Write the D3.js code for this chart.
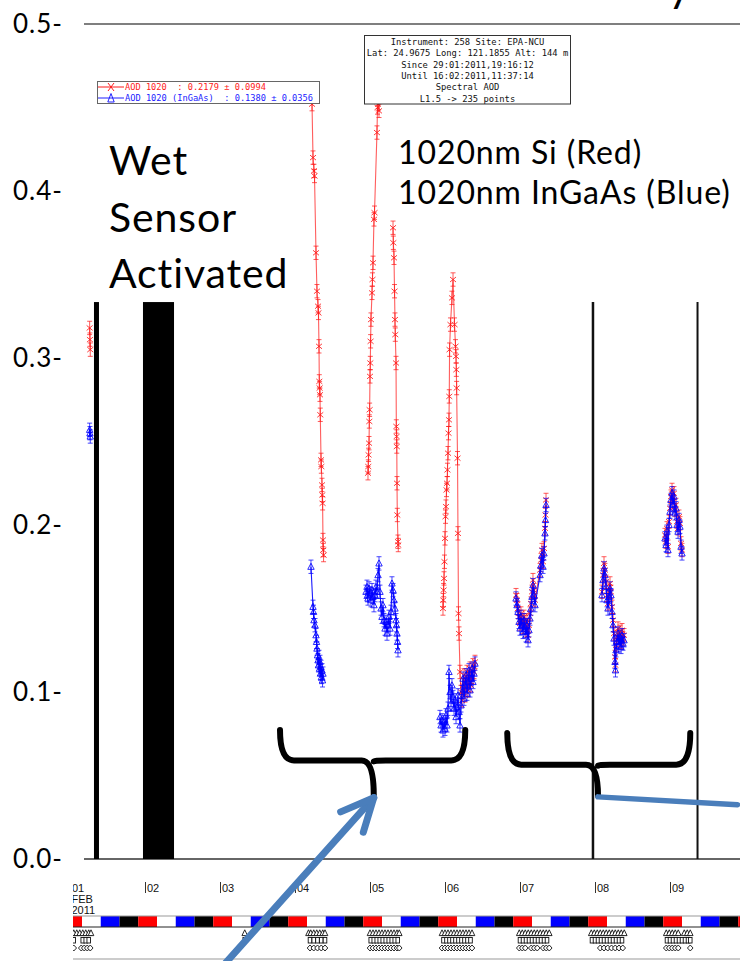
<!DOCTYPE html>
<html>
<head>
<meta charset="utf-8">
<script src="https://cdn.jsdelivr.net/npm/d3@7"></script>
<style>
  html, body { margin: 0; padding: 0; background: #fff; }
  svg { display: block; }
</style>
</head>
<body>
<svg id="chart" width="740" height="961"></svg>
<script>
// ---- AOD 1020 nm, EPA-NCU, February 2011 (time in fractional day of month) ----

// Si 1020 nm channel (red)
const siDay = [
  1.262, 1.266, 1.270,
  4.213, 4.227, 4.240, 4.253, 4.260, 4.280, 4.293, 4.307, 4.313, 4.320, 4.324,
  4.328, 4.333, 4.337, 4.347, 4.351, 4.360, 4.364, 4.368, 4.373, 4.377, 4.381,
  4.973, 4.977, 4.981, 4.987, 4.991, 4.995, 5.000, 5.004, 5.008, 5.013, 5.027,
  5.033, 5.040, 5.053, 5.060, 5.093, 5.100, 5.107, 5.120, 5.133,
  5.307, 5.311, 5.320, 5.327, 5.333, 5.337, 5.347, 5.351, 5.355, 5.357, 5.360,
  5.364, 5.373, 5.377,
  5.973, 5.977, 5.981, 5.987, 5.993, 6.000, 6.007, 6.013, 6.020, 6.027, 6.033,
  6.040, 6.047, 6.053, 6.057, 6.061, 6.073, 6.093, 6.107, 6.127, 6.140, 6.147,
  6.151, 6.155, 6.167, 6.173, 6.180, 6.187, 6.200, 6.213, 6.227, 6.240, 6.253,
  6.267, 6.280, 6.293, 6.307, 6.320, 6.333, 6.347, 6.360, 6.373, 6.387, 6.400,
  6.947, 6.960, 6.973, 6.987, 7.000, 7.013, 7.027, 7.040, 7.053, 7.067, 7.080,
  7.093, 7.107, 7.120, 7.133, 7.147, 7.160, 7.173, 7.187, 7.200, 7.267, 7.280,
  7.293, 7.307, 7.320, 7.333, 7.340, 7.347,
  8.093, 8.107, 8.120, 8.133, 8.147, 8.160, 8.173, 8.187, 8.200, 8.213, 8.227,
  8.240, 8.253, 8.267, 8.273, 8.280, 8.293, 8.307, 8.320, 8.333, 8.347, 8.360,
  8.373, 8.387,
  8.933, 8.947, 8.960, 8.973, 8.987, 9.000, 9.013, 9.027, 9.040, 9.053, 9.067,
  9.080, 9.093, 9.107, 9.120, 9.133, 9.147, 9.160
];
const siAod = [
  0.318, 0.311, 0.305,
  0.460, 0.452, 0.420, 0.412, 0.409, 0.363, 0.340, 0.331, 0.327, 0.307, 0.286,
  0.282, 0.278, 0.266, 0.239, 0.235, 0.224, 0.218, 0.213, 0.191, 0.185, 0.182,
  0.231, 0.235, 0.242, 0.249, 0.262, 0.269, 0.289, 0.297, 0.310, 0.323, 0.339,
  0.347, 0.357, 0.383, 0.387, 0.435, 0.450, 0.452, 0.448, 0.470,
  0.378, 0.369, 0.360, 0.340, 0.323, 0.314, 0.297, 0.259, 0.253, 0.247, 0.225,
  0.206, 0.190, 0.188,
  0.150, 0.155, 0.161, 0.168, 0.178, 0.192, 0.205, 0.211, 0.221, 0.225, 0.233,
  0.243, 0.255, 0.263, 0.277, 0.305, 0.320, 0.336, 0.347, 0.320, 0.307, 0.301,
  0.293, 0.282, 0.240, 0.195, 0.147, 0.135, 0.112, 0.100, 0.095, 0.104, 0.110,
  0.098, 0.106, 0.112, 0.101, 0.108, 0.114, 0.104, 0.109, 0.116, 0.112, 0.118,
  0.158, 0.155, 0.150, 0.145, 0.141, 0.147, 0.143, 0.139, 0.145, 0.142, 0.137,
  0.143, 0.134, 0.140, 0.147, 0.153, 0.160, 0.167, 0.161, 0.155, 0.173, 0.179,
  0.185, 0.178, 0.186, 0.198, 0.206, 0.215,
  0.160, 0.170, 0.177, 0.173, 0.166, 0.158, 0.153, 0.160, 0.165, 0.160, 0.151,
  0.143, 0.135, 0.121, 0.116, 0.128, 0.133, 0.138, 0.131, 0.136, 0.130, 0.137,
  0.132, 0.134,
  0.194, 0.190, 0.198, 0.187, 0.202, 0.210, 0.217, 0.221, 0.214, 0.219, 0.209,
  0.212, 0.202, 0.198, 0.205, 0.201, 0.189, 0.185
];

// InGaAs 1020 nm channel (blue)
const ingaasDay = [
  1.262, 1.266, 1.270,
  4.213, 4.240, 4.247, 4.253, 4.267, 4.280, 4.287, 4.293, 4.300, 4.307, 4.313,
  4.320, 4.327, 4.333, 4.340, 4.347, 4.353, 4.360, 4.367, 4.373,
  4.947, 4.960, 4.967, 4.973, 4.987, 5.000, 5.013, 5.027, 5.040, 5.053, 5.067,
  5.080, 5.093, 5.107, 5.120, 5.133, 5.147, 5.160, 5.173, 5.187, 5.200, 5.213,
  5.227, 5.240, 5.253, 5.267, 5.280, 5.293, 5.307, 5.320, 5.333, 5.347, 5.353,
  5.360, 5.367, 5.373,
  5.933, 5.947, 5.960, 5.973, 5.987, 6.000, 6.013, 6.027, 6.040, 6.053, 6.067,
  6.080, 6.093, 6.107, 6.120, 6.133, 6.147, 6.160, 6.173, 6.187, 6.200, 6.213,
  6.227, 6.240, 6.253, 6.267, 6.280, 6.293, 6.307, 6.320, 6.333, 6.347, 6.360,
  6.373, 6.387, 6.400,
  6.947, 6.960, 6.973, 6.987, 7.000, 7.013, 7.027, 7.040, 7.053, 7.067, 7.080,
  7.093, 7.107, 7.120, 7.133, 7.147, 7.160, 7.173, 7.187, 7.200, 7.267, 7.280,
  7.293, 7.307, 7.320, 7.333, 7.340, 7.347,
  8.093, 8.107, 8.120, 8.133, 8.147, 8.160, 8.173, 8.187, 8.200, 8.213, 8.227,
  8.240, 8.253, 8.267, 8.273, 8.280, 8.293, 8.307, 8.320, 8.333, 8.347, 8.360,
  8.373, 8.387,
  8.933, 8.947, 8.960, 8.973, 8.987, 9.000, 9.013, 9.027, 9.040, 9.053, 9.067,
  9.080, 9.093, 9.107, 9.120, 9.133, 9.147, 9.160
];
const ingaasAod = [
  0.257, 0.255, 0.253,
  0.175, 0.151, 0.148, 0.143, 0.140, 0.134, 0.130, 0.126, 0.122, 0.119, 0.116,
  0.121, 0.114, 0.118, 0.111, 0.115, 0.109, 0.113, 0.107, 0.111,
  0.160, 0.163, 0.158, 0.156, 0.162, 0.159, 0.155, 0.161, 0.157, 0.152, 0.158,
  0.163, 0.160, 0.170, 0.177, 0.160, 0.150, 0.145, 0.152, 0.143, 0.138, 0.142,
  0.135, 0.140, 0.145, 0.138, 0.148, 0.165, 0.161, 0.155, 0.150, 0.143, 0.140,
  0.135, 0.130, 0.125,
  0.085, 0.080, 0.083, 0.077, 0.082, 0.078, 0.086, 0.080, 0.090, 0.112, 0.100,
  0.093, 0.104, 0.097, 0.090, 0.095, 0.085, 0.091, 0.098, 0.088, 0.080, 0.092,
  0.100, 0.108, 0.096, 0.104, 0.110, 0.099, 0.106, 0.113, 0.101, 0.108, 0.114,
  0.106, 0.111, 0.117,
  0.156, 0.152, 0.148, 0.142, 0.138, 0.145, 0.140, 0.136, 0.143, 0.139, 0.134,
  0.140, 0.131, 0.137, 0.144, 0.150, 0.157, 0.164, 0.158, 0.152, 0.170, 0.176,
  0.182, 0.175, 0.183, 0.195, 0.203, 0.212,
  0.158, 0.167, 0.174, 0.170, 0.163, 0.155, 0.150, 0.157, 0.162, 0.158, 0.148,
  0.140, 0.132, 0.118, 0.113, 0.125, 0.130, 0.135, 0.128, 0.133, 0.127, 0.134,
  0.129, 0.131,
  0.192, 0.188, 0.196, 0.185, 0.200, 0.208, 0.215, 0.219, 0.212, 0.217, 0.207,
  0.210, 0.200, 0.196, 0.203, 0.199, 0.187, 0.183
];

const aodErr = 0.004;           // half-length of the error bars
const maxGapDays = 0.1;         // longer pauses break the connecting line

// axis ticks
const yTicks = [0.0, 0.1, 0.2, 0.3, 0.4, 0.5];
const dayTicks = [1, 2, 3, 4, 5, 6, 7, 8, 9];
const dayTickLabels = ["01", "02", "03", "04", "05", "06", "07", "08", "09"];

// quarter-day band colours and its phase (days)
const bandColors = ["#ff0000", "#ffffff", "#0000ff", "#000000"];
const bandPhase = -0.09;

// measurement-type rows under the band
const scanTriangles = [
  1.05, 1.09, 1.13, 1.17, 1.21, 1.25, 1.28,
  3.33,
  4.18, 4.21, 4.25, 4.29, 4.33, 4.37, 4.40,
  5.00, 5.04, 5.08, 5.12, 5.16, 5.20, 5.24, 5.28, 5.32, 5.36, 5.39,
  5.96, 6.00, 6.04, 6.08, 6.12, 6.16, 6.20, 6.24, 6.28, 6.32, 6.36,
  6.99, 7.03, 7.07, 7.11, 7.15, 7.19, 7.23, 7.27, 7.31, 7.35, 7.39,
  7.95, 7.99, 8.03, 8.07, 8.11, 8.15, 8.19, 8.23, 8.27, 8.31, 8.35, 8.39,
  8.95, 8.99, 9.03, 9.07, 9.11, 9.19, 9.23, 9.27
];
const scanSquares = [
  1.05, 1.17, 1.21, 1.25,
  3.33,
  4.20, 4.25, 4.30, 4.35, 4.40,
  5.01, 5.05, 5.09, 5.13, 5.17, 5.21, 5.25, 5.29, 5.33, 5.37,
  5.98, 6.02, 6.06, 6.10, 6.14, 6.18, 6.22, 6.26, 6.30, 6.34,
  7.00, 7.04, 7.08, 7.12, 7.16, 7.20, 7.24, 7.28, 7.32, 7.36,
  7.96, 8.00, 8.04, 8.08, 8.12, 8.16, 8.20, 8.24, 8.28, 8.32, 8.36,
  8.96, 9.00, 9.04, 9.08, 9.12, 9.16, 9.20, 9.24, 9.27
];
const scanDiamonds = [
  1.05, 1.15, 1.19, 1.23, 1.27,
  4.20, 4.25, 4.30, 4.35, 4.40,
  5.00, 5.04, 5.08, 5.12, 5.16, 5.20, 5.24, 5.28, 5.32, 5.36, 5.39,
  5.96, 6.00, 6.04, 6.08, 6.12, 6.16, 6.20, 6.24, 6.28, 6.32, 6.36,
  6.99, 7.03, 7.07, 7.15, 7.19, 7.23, 7.31, 7.35, 7.39,
  8.07, 8.12, 8.17, 8.22, 8.27, 8.32, 8.37,
  8.95, 8.99, 9.03, 9.07, 9.11, 9.27
];

// annotation anchors (day, AOD)
const wetLineDay = 1.353;
const wetBand = [1.973, 2.387];
const periodLines = [7.973, 9.367];
const markerTop = 0.3335;
const braces = [
  { left: 3.80, mid: 5.05, right: 6.27, top: 0.0772, bar: 0.0590, tip: 0.0385 },
  { left: 6.83, mid: 8.04, right: 9.27, top: 0.0754, bar: 0.0565, tip: 0.0378 }
];

// ---------------------------------------------------------------------------
const svg = d3.select("#chart");
const W = 740;

const x = d3.scaleLinear().domain([2, 9]).range([145, 670]);
const y = d3.scaleLinear().domain([0, 0.5]).range([859, 24]);

const plotLeft = 84, plotRight = 740;

const defs = svg.append("defs");
defs.append("clipPath").attr("id", "plotClip")
  .append("rect").attr("x", plotLeft).attr("y", y(0.5)).attr("width", plotRight - plotLeft).attr("height", y(0) - y(0.5));
defs.append("clipPath").attr("id", "stripClip")
  .append("rect").attr("x", 73).attr("y", 860).attr("width", W - 73).attr("height", 101);

// frame lines of the plot
svg.append("line").attr("x1", plotLeft).attr("x2", plotRight).attr("y1", y(0.5)).attr("y2", y(0.5))
  .attr("stroke", "#555").attr("stroke-width", 1.5);
svg.append("line").attr("x1", plotLeft).attr("x2", plotRight).attr("y1", y(0)).attr("y2", y(0))
  .attr("stroke", "#333").attr("stroke-width", 1.5);

// split a series into runs without long pauses
function runs(days, vals) {
  const out = [];
  let cur = [];
  days.forEach((d, i) => {
    if (cur.length && d - days[i - 1] > maxGapDays) { out.push(cur); cur = []; }
    cur.push([d, vals[i]]);
  });
  if (cur.length) out.push(cur);
  return out;
}

const line = d3.line().x(d => x(d[0])).y(d => y(d[1]));
const plot = svg.append("g").attr("clip-path", "url(#plotClip)");

function drawSeries(days, vals, color, lineOpacity, marker) {
  const g = plot.append("g");
  g.selectAll("path.run").data(runs(days, vals)).join("path")
    .attr("class", "run")
    .attr("d", line)
    .attr("fill", "none")
    .attr("stroke", color)
    .attr("stroke-opacity", lineOpacity)
    .attr("stroke-width", 1.1);
  const pts = days.map((d, i) => [d, vals[i]]);
  // error bars
  g.selectAll("path.err").data(pts).join("path")
    .attr("class", "err")
    .attr("d", d => {
      const cx = x(d[0]), y1 = y(d[1] + aodErr), y2 = y(d[1] - aodErr);
      return `M${cx},${y1}V${y2}M${cx - 2.5},${y1}H${cx + 2.5}M${cx - 2.5},${y2}H${cx + 2.5}`;
    })
    .attr("fill", "none").attr("stroke", color).attr("stroke-opacity", 0.8).attr("stroke-width", 0.9);
  g.selectAll("path.mk").data(pts).join("path")
    .attr("class", "mk")
    .attr("transform", d => `translate(${x(d[0])},${y(d[1])})`)
    .attr("d", marker)
    .attr("fill", "none").attr("stroke", color).attr("stroke-opacity", 0.85).attr("stroke-width", 1);
}
const crossPath = "M-3,-2.5L3,2.5M-3,2.5L3,-2.5";
const triPath = "M0,-3.5L3.2,2.6L-3.2,2.6Z";

drawSeries(siDay, siAod, "#ff1a1a", 0.7, crossPath);
drawSeries(ingaasDay, ingaasAod, "#0000ff", 0.9, triPath);

// legend box
const monoFont = "'DejaVu Sans Mono', 'Liberation Mono', monospace";
const leg = svg.append("g").attr("font-family", monoFont).attr("font-size", 8.6);
leg.append("rect").attr("x", 97.5).attr("y", 81.5).attr("width", 222).attr("height", 22)
  .attr("fill", "#fff").attr("stroke", "#666").attr("stroke-width", 1);
leg.append("line").attr("x1", 98).attr("x2", 124).attr("y1", 87).attr("y2", 87).attr("stroke", "#ff1a1a");
leg.append("path").attr("transform", "translate(111,87)").attr("d", "M-3,-4L3,4M-3,4L3,-4").attr("stroke", "#ff1a1a").attr("fill", "none");
leg.append("text").attr("x", 125).attr("y", 90).attr("fill", "#ff1a1a")
  .style("white-space", "pre")
  .attr("textLength", 141).attr("lengthAdjust", "spacingAndGlyphs")
  .text("AOD 1020  : 0.2179 \u00b1 0.0994");
leg.append("line").attr("x1", 98).attr("x2", 124).attr("y1", 98).attr("y2", 98).attr("stroke", "#2020ff");
leg.append("path").attr("transform", "translate(111,98)").attr("d", "M0,-4.5L3.2,4L-3.2,4Z").attr("stroke", "#2020ff").attr("fill", "none");
leg.append("text").attr("x", 125).attr("y", 101).attr("fill", "#2020ff")
  .style("white-space", "pre")
  .attr("textLength", 188).attr("lengthAdjust", "spacingAndGlyphs")
  .text("AOD 1020 (InGaAs)  : 0.1380 \u00b1 0.0356");

// instrument info box
const infoLines = [
  "Instrument: 258 Site: EPA-NCU",
  "Lat: 24.9675 Long: 121.1855 Alt: 144 m",
  "Since 29:01:2011,19:16:12",
  "Until 16:02:2011,11:37:14",
  "Spectral AOD",
  "L1.5 -> 235 points"
];
const info = svg.append("g").attr("font-family", monoFont).attr("font-size", 8.8).attr("fill", "#111");
info.append("rect").attr("x", 364.5).attr("y", 35.5).attr("width", 206).attr("height", 68.5)
  .attr("fill", "#fff").attr("stroke", "#333").attr("stroke-width", 1);
info.selectAll("text").data(infoLines).join("text")
  .attr("x", 467.5).attr("y", (d, i) => 45 + i * 11.3)
  .attr("text-anchor", "middle")
  .attr("textLength", d => d.length * 5.3).attr("lengthAdjust", "spacingAndGlyphs")
  .text(d => d);

// y axis labels
const yAxis = d3.axisLeft(y).tickValues(yTicks).tickSize(0).tickPadding(0)
  .tickFormat(d => d3.format(".1f")(d) + "-");
const yg = svg.append("g").attr("transform", "translate(63,0)").call(yAxis);
yg.select(".domain").remove();
yg.selectAll("text").attr("font-family", "Lato, 'Open Sans', sans-serif").attr("font-size", 26)
  .attr("letter-spacing", 1).attr("fill", "#000");

// wet-sensor and period markers
svg.append("rect").attr("x", x(wetLineDay) - 2.5).attr("y", y(markerTop)).attr("width", 5).attr("height", y(0) - y(markerTop)).attr("fill", "#000");
svg.append("rect").attr("x", x(wetBand[0])).attr("y", y(markerTop)).attr("width", x(wetBand[1]) - x(wetBand[0])).attr("height", y(0) - y(markerTop)).attr("fill", "#000");
svg.selectAll("line.period").data(periodLines).join("line").attr("class", "period")
  .attr("x1", d => x(d)).attr("x2", d => x(d)).attr("y1", y(markerTop)).attr("y2", y(0))
  .attr("stroke", "#111").attr("stroke-width", (d, i) => i === 0 ? 2.5 : 2);

// bottom strip: day ticks, quarter-day band, measurement rows
const strip = svg.append("g").attr("clip-path", "url(#stripClip)");
const xAxis = d3.axisBottom(x).tickValues(dayTicks).tickSize(-11).tickPadding(0)
  .tickFormat((d, i) => dayTickLabels[i]);
const xg = strip.append("g").attr("transform", "translate(0,893)").call(xAxis);
xg.select(".domain").remove();
xg.selectAll(".tick line").attr("stroke", "#333");
xg.selectAll(".tick text")
  .attr("text-anchor", "start").attr("x", 1.5).attr("y", -1.5).attr("dy", 0)
  .attr("font-family", "'Liberation Sans', Arial, sans-serif").attr("font-size", 11).attr("fill", "#111");
strip.append("text").attr("x", x(1) + 1.5).attr("y", 903).attr("font-family", "'Liberation Sans', Arial, sans-serif")
  .attr("font-size", 11).attr("fill", "#111").text("FEB");
strip.append("text").attr("x", x(1) + 1.5).attr("y", 914).attr("font-family", "'Liberation Sans', Arial, sans-serif")
  .attr("font-size", 11).attr("fill", "#111").text("2011");

const bandSegs = [];
for (let day = 0; day <= 10; day++) {
  bandColors.forEach((c, q) => bandSegs.push({ start: day + bandPhase + q * 0.25, color: c }));
}
strip.selectAll("rect.band").data(bandSegs).join("rect").attr("class", "band")
  .attr("x", d => x(d.start)).attr("y", 916).attr("width", d => x(d.start + 0.25) - x(d.start)).attr("height", 11)
  .attr("fill", d => d.color);
strip.append("line").attr("x1", 0).attr("x2", W).attr("y1", 916).attr("y2", 916).attr("stroke", "#999").attr("stroke-width", 1);
strip.append("line").attr("x1", 0).attr("x2", W).attr("y1", 927).attr("y2", 927).attr("stroke", "#222").attr("stroke-width", 1);

strip.selectAll("path.stri").data(scanTriangles).join("path").attr("class", "stri")
  .attr("transform", d => `translate(${x(d)},933)`)
  .attr("d", "M0,-3.2L2.8,2.6L-2.8,2.6Z").attr("fill", "#fff").attr("stroke", "#111").attr("stroke-width", 0.9);
strip.selectAll("rect.ssq").data(scanSquares).join("rect").attr("class", "ssq")
  .attr("x", d => x(d) - 1.8).attr("y", 937.5).attr("width", 3.6).attr("height", 5.5)
  .attr("fill", "#fff").attr("stroke", "#111").attr("stroke-width", 0.9);
strip.selectAll("path.sdia").data(scanDiamonds).join("path").attr("class", "sdia")
  .attr("transform", d => `translate(${x(d)},948)`)
  .attr("d", "M0,-3L2.8,0L0,3L-2.8,0Z").attr("fill", "#fff").attr("stroke", "#111").attr("stroke-width", 0.9);
strip.append("line").attr("x1", 0).attr("x2", W).attr("y1", 959).attr("y2", 959).attr("stroke", "#ccc").attr("stroke-width", 2);

// slide annotations
const big = svg.append("g").attr("font-family", "Lato, 'Open Sans', sans-serif").attr("fill", "#000");
big.selectAll("text.wet").data(["Wet", "Sensor", "Activated"]).join("text").attr("class", "wet")
  .attr("x", 109).attr("y", (d, i) => 175 + i * 56.5).attr("font-size", 41)
  .attr("letter-spacing", 0.9).text(d => d);
big.selectAll("text.leg2").data(["1020nm Si (Red)", "1020nm InGaAs (Blue)"]).join("text").attr("class", "leg2")
  .attr("x", 398).attr("y", (d, i) => 164 + i * 40).attr("font-size", 32)
  .attr("letter-spacing", 0.9).text(d => d);
big.append("text").attr("x", 668).attr("y", 1).attr("font-size", 44).text("y");

// braces
function bracePath(b) {
  const xl = x(b.left), xr = x(b.right), xm = x(b.mid);
  const yt = y(b.top), yb = y(b.bar), yp = y(b.tip);
  return `M${xl},${yt}Q${xl},${yb} ${xl + 14},${yb}` +
         `L${xm - 12},${yb}Q${xm},${yb} ${xm},${yp}` +
         `M${xm},${yb + 1}Q${xm},${yb} ${xm + 12},${yb}` +
         `L${xr - 14},${yb}Q${xr},${yb} ${xr},${yt}`;
}
svg.selectAll("path.brace").data(braces).join("path").attr("class", "brace")
  .attr("d", bracePath).attr("fill", "none").attr("stroke", "#000")
  .attr("stroke-width", 6).attr("stroke-linecap", "round").attr("stroke-linejoin", "round");

// arrows pointing at the braces
const arrowColor = "#4a7ebb";
const tip1 = [x(braces[0].mid), y(braces[0].tip) + 3];
const tail1 = [x(3.0), y(-0.066)];
svg.append("line").attr("x1", tail1[0]).attr("y1", tail1[1]).attr("x2", tip1[0]).attr("y2", tip1[1])
  .attr("stroke", arrowColor).attr("stroke-width", 7).attr("stroke-linecap", "round");
{
  const ang = Math.atan2(tail1[1] - tip1[1], tail1[0] - tip1[0]);
  const len = 36, spread = 25 * Math.PI / 180;
  const b1 = [tip1[0] + len * Math.cos(ang + spread), tip1[1] + len * Math.sin(ang + spread)];
  const b2 = [tip1[0] + len * Math.cos(ang - spread), tip1[1] + len * Math.sin(ang - spread)];
  svg.append("path").attr("d", `M${b1[0]},${b1[1]}L${tip1[0]},${tip1[1]}L${b2[0]},${b2[1]}`)
    .attr("fill", "none").attr("stroke", arrowColor).attr("stroke-width", 7)
    .attr("stroke-linecap", "round").attr("stroke-linejoin", "round");
}
svg.append("line")
  .attr("x1", x(braces[1].mid)).attr("y1", y(braces[1].tip) + 1)
  .attr("x2", x(9.9)).attr("y2", y(0.0325))
  .attr("stroke", arrowColor).attr("stroke-width", 5.5).attr("stroke-linecap", "round");
</script>
</body>
</html>
